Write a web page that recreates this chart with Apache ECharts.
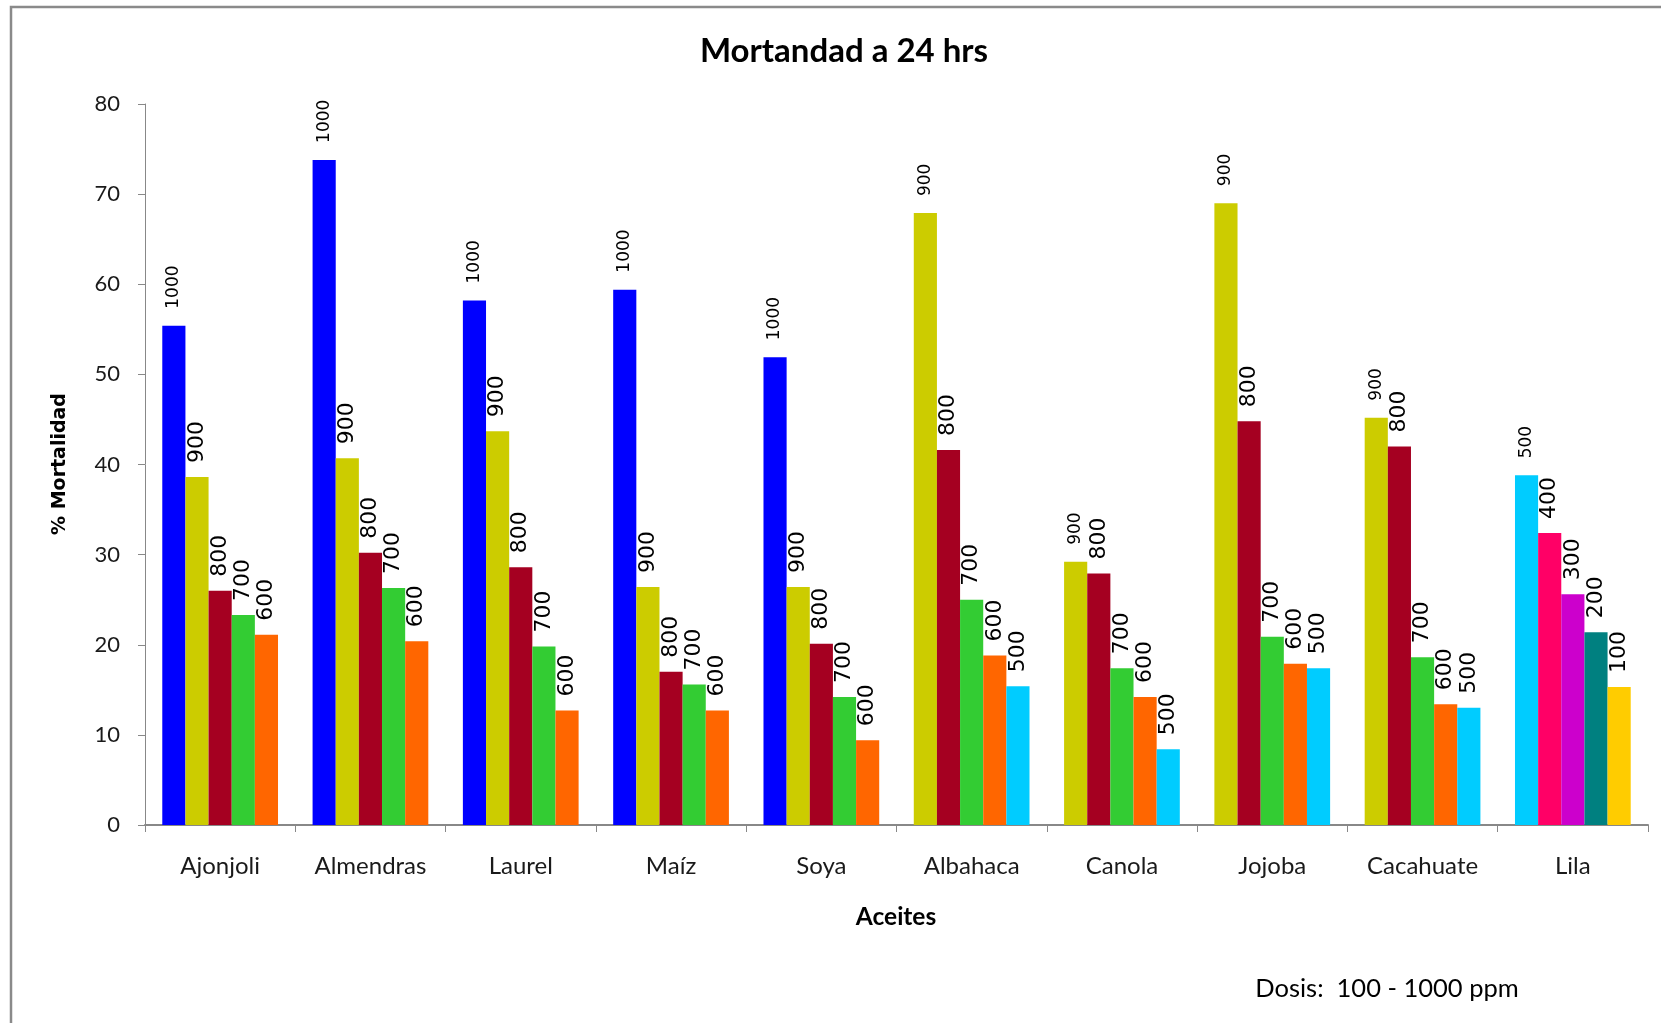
<!DOCTYPE html>
<html>
<head>
<meta charset="utf-8">
<script src="https://cdn.jsdelivr.net/npm/echarts@6/dist/echarts.min.js"></script>
<style>
html,body{margin:0;padding:0;background:#fff;}
#chart{width:1661px;height:1023px;}
</style>
</head>
<body>
<div id="chart"></div>
<script>
// ---- data ----
const categories = ['Ajonjoli','Almendras','Laurel','Maíz','Soya','Albahaca','Canola','Jojoba','Cacahuate','Lila'];
// dose (ppm) shown above each of the five bars of every category
const doses = [
  [1000,900,800,700,600],
  [1000,900,800,700,600],
  [1000,900,800,700,600],
  [1000,900,800,700,600],
  [1000,900,800,700,600],
  [900,800,700,600,500],
  [900,800,700,600,500],
  [900,800,700,600,500],
  [900,800,700,600,500],
  [500,400,300,200,100]
];
// % mortality for each bar
const mortality = [
  [55.4,38.6,26.0,23.3,21.1],
  [73.8,40.7,30.2,26.3,20.4],
  [58.2,43.7,28.6,19.8,12.7],
  [59.4,26.4,17.0,15.6,12.7],
  [51.9,26.4,20.1,14.2,9.4],
  [67.9,41.6,25.0,18.8,15.4],
  [29.2,27.9,17.4,14.2,8.4],
  [69.0,44.8,20.9,17.9,17.4],
  [45.2,42.0,18.6,13.4,13.0],
  [38.8,32.4,25.6,21.4,15.3]
];
const titleText = 'Mortandad a 24 hrs';
const yAxisTitle = '% Mortalidad';
const xAxisTitle = 'Aceites';
const noteText = 'Dosis:  100 - 1000 ppm';

// ---- styles ----
const doseColor = {1000:'#0000FF',900:'#CCCC00',800:'#A50021',700:'#33CC33',600:'#FF6600',
                   500:'#00CCFF',400:'#FF0066',300:'#CC00CC',200:'#008080',100:'#FFCC00'};

const series = [0,1,2,3,4].map(slot => ({
  type: 'bar',
  barGap: '0%',
  barCategoryGap: '23%',
  data: categories.map((c, i) => ({
    value: mortality[i][slot],
    itemStyle: { color: doseColor[doses[i][slot]] }
  })),
  label: {
    show: true,
    position: 'top',
    rotate: 90,
    align: 'left',
    verticalAlign: 'middle',
    distance: slot === 0 ? 17 : 14,
    fontFamily: '"DejaVu Sans", Verdana, sans-serif',
    fontSize: slot === 0 ? 17 : 22,
    color: '#000',
    formatter: p => String(doses[p.dataIndex][slot])
  }
}));

const chart = echarts.init(document.getElementById('chart'), null, {renderer: 'canvas'});
chart.setOption({
  animation: false,
  backgroundColor: '#ffffff',
  grid: { left: 145, right: 13, top: 104, bottom: 198, containLabel: false },
  xAxis: {
    type: 'category',
    data: categories,
    boundaryGap: true,
    axisLine: { lineStyle: { color: '#888888', width: 2 } },
    axisTick: { show: true, length: 7, lineStyle: { color: '#888888', width: 1 } },
    axisLabel: { margin: 29, fontFamily: 'Lato', fontSize: 24, color: '#1a1a1a' },
    splitLine: { show: false }
  },
  yAxis: {
    type: 'value',
    min: 0, max: 80, interval: 10,
    axisLine: { show: true, lineStyle: { color: '#888888', width: 1 } },
    axisTick: { show: true, length: 7, lineStyle: { color: '#888888' } },
    axisLabel: { margin: 25, fontFamily: 'Lato', fontSize: 22, color: '#1a1a1a' },
    splitLine: { show: false }
  },
  graphic: [
    { type: 'rect', shape: { x: 11, y: 7, width: 1700, height: 1100 },
      style: { fill: 'none', stroke: '#8a8a8a', lineWidth: 2.5 }, silent: true, z: -1 },
    { type: 'text', x: 844, y: 51,
      style: { text: titleText, align: 'center', verticalAlign: 'middle',
               font: 'bold 33px Lato', fill: '#000' } },
    { type: 'text', x: 60, y: 464, rotation: Math.PI / 2,
      style: { text: yAxisTitle, align: 'center', verticalAlign: 'middle',
               font: 'bold 19px "DejaVu Sans"', fill: '#000' } },
    { type: 'text', x: 896, y: 917,
      style: { text: xAxisTitle, align: 'center', verticalAlign: 'middle',
               font: 'bold 24.5px Lato', fill: '#000' } },
    { type: 'text', x: 1387, y: 989,
      style: { text: noteText, align: 'center', verticalAlign: 'middle',
               font: '25.5px Lato', fill: '#000' } }
  ],
  series: series
});
</script>
</body>
</html>
